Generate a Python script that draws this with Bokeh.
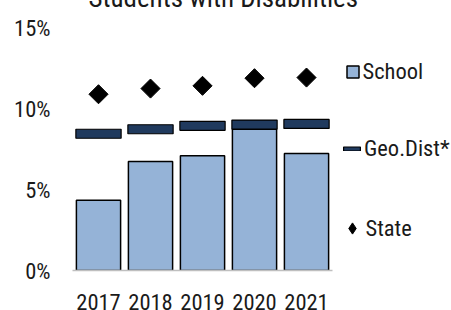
from bokeh.plotting import figure
from bokeh.models import Range1d, FixedTicker, PrintfTickFormatter, Legend, LegendItem
from bokeh.embed import file_html
from bokeh.resources import INLINE
import math

years = ["2017", "2018", "2019", "2020", "2021"]
school = [4.34, 6.73, 7.08, 8.72, 7.22]
geo_dist = [8.44, 8.72, 8.93, 9.01, 9.05]
state = [10.88, 11.23, 11.40, 11.87, 11.91]
y_ticks = [0, 5, 10, 15]

FONT = "Roboto Condensed"
LABEL_SIZE = "22.5px"
TEXT_COLOR = "#1a1a1a"
SCHOOL_FILL = "#95B3D7"
GEO_FILL = "#203A5E"

# category slots 0..n-1 (centres at i + 0.5); the frame extends right to host the legend
xpos = [i + 0.5 for i in range(len(years))]
x_ticks = xpos

p = figure(x_range=Range1d(0, 7.288), y_range=Range1d(0, 15),
           width=451, height=345, frame_width=379, frame_height=243,
           min_border_left=72, min_border_right=0, min_border_top=60, min_border_bottom=42,
           output_backend="svg", toolbar_location=None,
           title="Students with Disabilities",
           styles={"margin-top": "-35px", "margin-bottom": "-8px"})
p.extra_y_ranges = {"offscreen": Range1d(-100, -99)}

p.title.text_font = FONT
p.title.text_font_size = "27px"
p.title.text_font_style = "normal"
p.title.text_color = TEXT_COLOR
p.title.align = "left"
p.title.offset = 16
p.title.standoff = 28

p.outline_line_color = None
p.xgrid.grid_line_color = None
p.ygrid.grid_line_color = None

p.yaxis.ticker = FixedTicker(ticks=y_ticks)
p.yaxis.formatter = PrintfTickFormatter(format="%d%%")
p.yaxis.axis_line_color = None
p.yaxis.major_tick_line_color = None
p.yaxis.minor_tick_line_color = None
p.yaxis.major_label_standoff = 16
p.yaxis.major_label_text_font = FONT
p.yaxis.major_label_text_font_size = LABEL_SIZE
p.yaxis.major_label_text_color = TEXT_COLOR

p.xaxis.ticker = FixedTicker(ticks=x_ticks)
p.xaxis.major_label_overrides = {x: y for x, y in zip(x_ticks, years)}
p.xaxis.bounds = (0, len(years))
p.xaxis.axis_line_color = "#BFBFBF"
p.xaxis.axis_line_width = 1.5
p.xaxis.major_tick_line_color = None
p.xaxis.minor_tick_line_color = None
p.xaxis.major_label_standoff = 17
p.xaxis.major_label_text_font = FONT
p.xaxis.major_label_text_font_size = LABEL_SIZE
p.xaxis.major_label_text_color = TEXT_COLOR

r_school = p.vbar(x=xpos, top=school, width=0.85, fill_color=SCHOOL_FILL, line_color="black", line_width=1.5)
r_geo = p.rect(x=xpos, y=geo_dist, width=0.87, height=9, height_units="screen",
               fill_color=GEO_FILL, line_color="black", line_width=1.2)
r_state = p.scatter(x=xpos, y=state, marker="square", size=13.5, angle=math.pi / 4,
                    fill_color="black", line_color="black")
# same State data on an off-screen range: only supplies the diamond swatch of the legend
r_state_key = p.scatter(x=xpos, y=state, marker="diamond", size=12, y_range_name="offscreen",
                        fill_color="black", line_color="black")

def make_legend(label, renderer, gw, gh, loc, standoff):
    lg = Legend(items=[LegendItem(label=label, renderers=[renderer])],
                location=loc, glyph_width=gw, glyph_height=gh,
                label_text_font=FONT, label_text_font_size=LABEL_SIZE, label_text_color=TEXT_COLOR,
                label_standoff=standoff, padding=0, margin=0, spacing=0,
                border_line_color=None, background_fill_alpha=0)
    p.add_layout(lg, "center")

make_legend("School", r_school, 15, 15, (272.5, 186), 3)
make_legend("Geo.Dist*", r_geo, 21, 5, (269, 109), 2)
make_legend("State", r_state_key, 28, 28, (265.5, 28), 0)

open("out.html", "w").write(file_html(p, INLINE))
